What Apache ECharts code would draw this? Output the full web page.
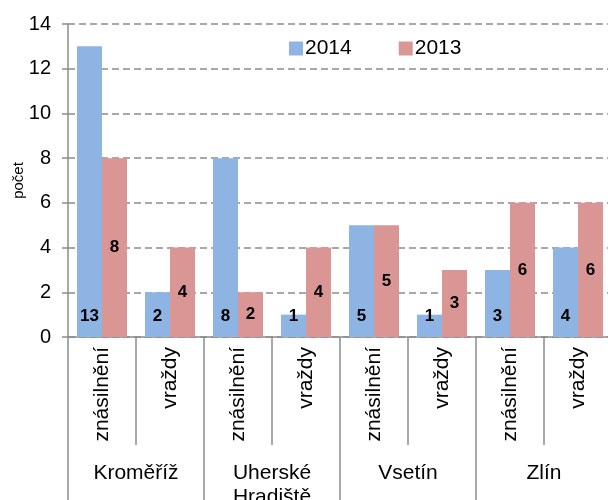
<!DOCTYPE html>
<html>
<head>
<meta charset="utf-8">
<script src="https://cdn.jsdelivr.net/npm/echarts@6/dist/echarts.min.js"></script>
<style>
  html, body { margin: 0; padding: 0; background: #fff; }
  #chart { width: 608px; height: 500px; }
</style>
</head>
<body>
<div id="chart"></div>
<script>
// kategorie a hodnoty
const crimes = ['znásilnění', 'vraždy', 'znásilnění', 'vraždy', 'znásilnění', 'vraždy', 'znásilnění', 'vraždy'];
const regions = ['Kroměříž', 'Uherské\nHradiště', 'Vsetín', 'Zlín'];
const y2014 = [13, 2, 8, 1, 5, 1, 3, 4];
const y2013 = [8, 4, 2, 4, 5, 3, 6, 6];

const font = '"Liberation Sans", Arial, sans-serif';
const gray = '#8c8c8c';

var chart = echarts.init(document.getElementById('chart'));

var option = {
  backgroundColor: '#fff',
  animation: false,
  textStyle: { fontFamily: font },
  legend: {
    top: 34,
    left: 284,
    icon: 'rect',
    itemWidth: 14,
    itemHeight: 14,
    itemGap: 47,
    backgroundColor: '#fff',
    padding: [4, 5],
    textStyle: { fontSize: 21, color: '#000', fontFamily: font, padding: [0, 0, 0, -3] },
    data: ['2014', '2013']
  },
  grid: { left: 68, top: 24, width: 544, bottom: 163, outerBoundsMode: 'none', containLabel: false },
  xAxis: [
    {
      type: 'category',
      data: crimes,
      axisLine: { lineStyle: { color: gray, width: 1.5 } },
      axisTick: { show: true, length: 108, lineStyle: { color: gray, width: 1.5 } },
      axisLabel: {
        rotate: 90,
        margin: 10,
        fontSize: 21,
        color: '#000',
        fontFamily: font
      }
    },
    {
      type: 'category',
      data: regions,
      position: 'bottom',
      axisLine: { show: false },
      axisTick: { show: true, length: 163, lineStyle: { color: gray, width: 1.5 } },
      axisLabel: {
        margin: 124,
        fontSize: 21,
        lineHeight: 24,
        color: '#000',
        fontFamily: font,
        verticalAlign: 'top'
      }
    }
  ],
  yAxis: {
    type: 'value',
    min: 0,
    max: 14,
    interval: 2,
    name: 'počet',
    nameLocation: 'middle',
    nameRotate: 90,
    nameGap: 42,
    nameMoveOverlap: false,
    nameTextStyle: { fontSize: 15, color: '#000', fontFamily: font },
    axisLine: { show: true, lineStyle: { color: gray, width: 1.5 } },
    axisTick: { show: true, length: 6, lineStyle: { color: gray, width: 1.5 } },
    axisLabel: { fontSize: 20, color: '#000', margin: 17, fontFamily: font },
    splitLine: { lineStyle: { color: gray, width: 1.5, type: [7, 4] } }
  },
  series: [
    {
      name: '2014',
      type: 'bar',
      data: y2014,
      barWidth: 25,
      barGap: '0%',
      itemStyle: { color: '#8eb4e3' },
      label: {
        show: true,
        position: 'insideBottom',
        distance: 12,
        fontSize: 17,
        fontWeight: 'bold',
        color: '#000',
        fontFamily: font
      }
    },
    {
      name: '2013',
      type: 'bar',
      data: y2013,
      barWidth: 25,
      itemStyle: { color: '#d99694' },
      label: {
        show: true,
        position: 'inside',
        fontSize: 17,
        fontWeight: 'bold',
        color: '#000',
        fontFamily: font
      }
    }
  ]
};

chart.setOption(option);
</script>
</body>
</html>
